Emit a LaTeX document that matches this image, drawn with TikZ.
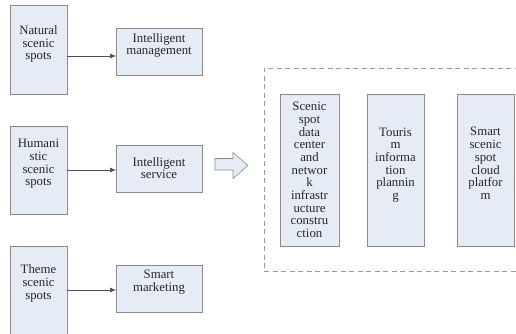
\documentclass[tikz,border=0pt]{standalone}
\usepackage{fontspec}
\setmainfont{Liberation Serif}
\usetikzlibrary{arrows.meta}
\definecolor{boxfill}{HTML}{E6ECF6}
\definecolor{boxline}{HTML}{8A8A8A}
\definecolor{dashline}{HTML}{9A9A9A}
\begin{document}
\begin{tikzpicture}[x=1pt,y=-1pt,
  box/.style={draw=boxline,fill=boxfill,line width=0.8pt,inner sep=0pt,outer sep=0pt},
  txt/.style={align=center,inner sep=0pt,text=black!85,font=\fontsize{12.8}{12.7}\selectfont},
  arr/.style={-{Latex[length=6pt,width=5pt]},line width=0.6pt,draw=black!70}]
\useasboundingbox (0,0) rectangle (516,334);
\clip (0,0) rectangle (516,334);
% left boxes
\node[box,minimum width=57pt,minimum height=89pt] (l1) at (38.5,49.5) {};
\node[box,minimum width=57pt,minimum height=88pt] (l2) at (38.5,170) {};
\node[box,minimum width=57pt,minimum height=94pt] (l3) at (38.5,293) {};
\node[txt] (t1) at (38.5,44) {Natural\\scenic\\spots};
\node[txt] (t2) at (38.5,164) {Humani\\stic\\scenic\\spots};
\node[txt] (t3) at (38.5,283.5) {Theme\\scenic\\spots};
% middle boxes
\node[box,minimum width=86pt,minimum height=47pt] (m1) at (159,51.5) {};
\node[box,minimum width=86pt,minimum height=47pt] (m2) at (159,168.5) {};
\node[box,minimum width=86pt,minimum height=47pt] (m3) at (159,288.5) {};
\node[txt] (u1) at (159,45.5) {Intelligent\\management};
\node[txt] (u2) at (159,168) {Intelligent\\service};
\node[txt] (u3) at (159,282) {Smart\\marketing};
% arrows
\draw[arr] (l1.east |- 0,56) -- (m1.west |- 0,56);
\draw[arr] (l2.east |- 0,170) -- (m2.west |- 0,170);
\draw[arr] (l3.east |- 0,290) -- (m3.west |- 0,290);
% block arrow
\draw[boxline,fill=boxfill,line width=0.6pt] (215,158.5) -- (233,158.5) -- (233,152.5) -- (248,165.5) -- (233,178.5) -- (233,170) -- (215,170) -- cycle;
% dashed frame
\node[draw=dashline,line width=0.8pt,dash pattern=on 5pt off 3.5pt,minimum width=260pt,minimum height=203pt,inner sep=0pt] (frame) at (394,169.5) {};
% inner boxes
\node[box,minimum width=59pt,minimum height=152pt] (a) at (309.5,170) {};
\node[box,minimum width=57pt,minimum height=152pt] (b) at (395.5,170) {};
\node[box,minimum width=57pt,minimum height=152pt] (c) at (485.5,170) {};
\node[txt] (ta) at (309.5,170) {Scenic\\spot\\data\\center\\and\\networ\\k\\infrastr\\ucture\\constru\\ction};
\node[txt] (tb) at (395.5,165) {Touris\\m\\informa\\tion\\plannin\\g};
\node[txt] (tc) at (485.5,163.5) {Smart\\scenic\\spot\\cloud\\platfor\\m};
\end{tikzpicture}
\end{document}
